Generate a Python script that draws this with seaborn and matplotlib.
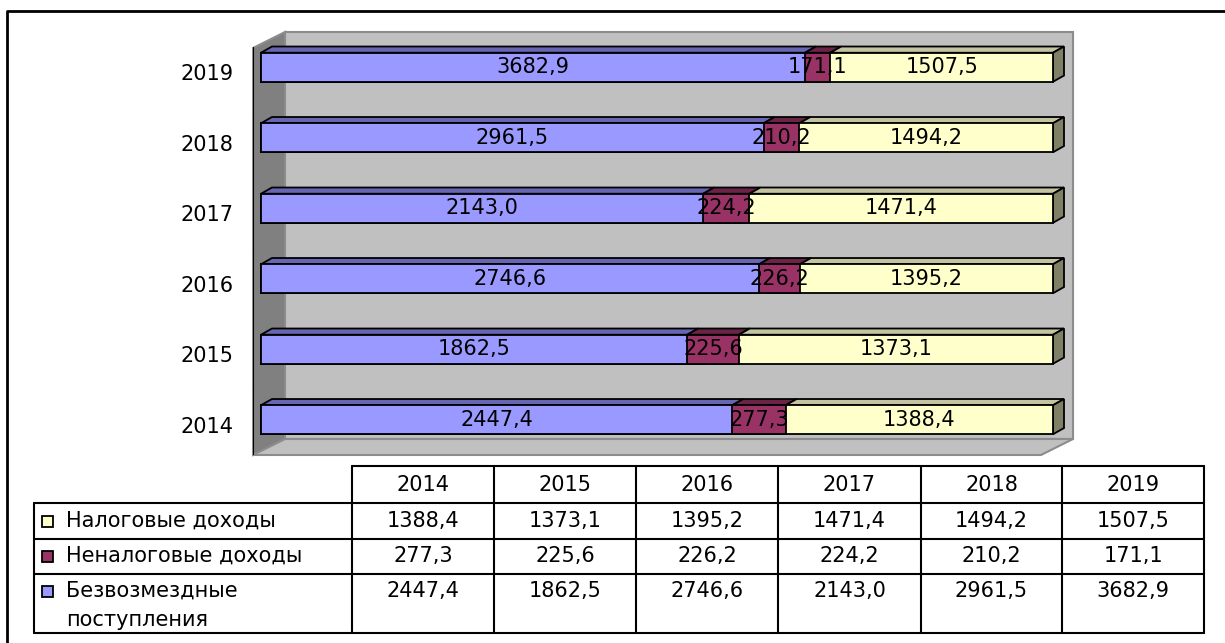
import numpy as np
import pandas as pd
import matplotlib
matplotlib.use("Agg")
import matplotlib.pyplot as plt
from matplotlib.patches import Polygon, Rectangle
from matplotlib.lines import Line2D
import matplotlib.transforms as mtransforms
import seaborn as sns

# data (thousand rubles)
years = ['2014', '2015', '2016', '2017', '2018', '2019']
tax = [1388.4, 1373.1, 1395.2, 1471.4, 1494.2, 1507.5]          # Налоговые доходы
nontax = [277.3, 225.6, 226.2, 224.2, 210.2, 171.1]             # Неналоговые доходы
grants = [2447.4, 1862.5, 2746.6, 2143.0, 2961.5, 3682.9]       # Безвозмездные поступления
series_names = ['Налоговые доходы', 'Неналоговые доходы', 'Безвозмездные\nпоступления']

col_grants = '#9999FF'
col_nontax = '#993366'
col_tax = '#FFFFCC'
top_cols = {col_grants: '#6666B3', col_nontax: '#6B2447', col_tax: '#C4C4A2'}

sns.set_theme(style='white')
plt.rcParams['font.family'] = ['DejaVu Sans']
plt.rcParams['text.color'] = 'black'
plt.rcParams['ytick.color'] = 'black'
FS = 15

W, H = 1225, 643
fig = plt.figure(figsize=(W / 100, H / 100), dpi=100)


def P(x, y):
    # pixel position (from top left) -> figure fraction
    return (x / W, 1 - y / H)


# 100% shares
df = pd.DataFrame({'year': years, 'tax': tax, 'nontax': nontax, 'grants': grants})
df['total'] = df['tax'] + df['nontax'] + df['grants']
df['s_grants'] = df['grants'] / df['total']
df['s_cum2'] = (df['grants'] + df['nontax']) / df['total']
df['s_full'] = 1.0
order = years[::-1]

# plot area (walls) in pixels
wl, wr, wt, wb = 253, 1073, 32, 455
bar_x0, bar_x1 = 261, 1053
row0, row_step = 77, 68
ax = fig.add_axes([wl / W, 1 - wb / H, (wr - wl) / W, (wb - wt) / H])
ax.set_xlim((wl - bar_x0) / (bar_x1 - bar_x0), (wr - bar_x0) / (bar_x1 - bar_x0))
ax.set_ylim((wb - row0) / row_step, (wt - row0) / row_step)
ax.set_facecolor('none')
for s in ax.spines.values():
    s.set_visible(False)

# walls and floor
depth_x, depth_y = 32, 16
walls = [
    ([(wl, wt + depth_y), (wl + depth_x, wt), (wl + depth_x, wb - depth_y), (wl, wb)], '#808080'),
    ([(wl + depth_x, wt), (wr, wt), (wr, wb - depth_y), (wl + depth_x, wb - depth_y)], '#C0C0C0'),
    ([(wl, wb), (wl + depth_x, wb - depth_y), (wr, wb - depth_y), (wr - depth_x, wb)], '#C0C0C0'),
]
for pts, c in walls:
    ax.add_patch(Polygon([P(*p) for p in pts], closed=True, transform=fig.transFigure,
                         facecolor=c, edgecolor='#8C8C8C', lw=1.5, zorder=0, clip_on=False))

# stacked bars (front faces), drawn as cumulative shares
bw = 28 / row_step
for col, c in [('s_full', col_tax), ('s_cum2', col_nontax), ('s_grants', col_grants)]:
    sns.barplot(data=df, x=col, y='year', order=order, orient='h', color=c,
                saturation=1, width=bw, edgecolor='black', linewidth=1.3,
                errorbar=None, ax=ax, zorder=3)

# 3d tops and end face
dx = 11 / (bar_x1 - bar_x0)
dy = 6 / row_step
for i, yr in enumerate(order):
    r = df[df['year'] == yr].iloc[0]
    bounds = [0, r['s_grants'], r['s_cum2'], 1.0]
    cols = [col_grants, col_nontax, col_tax]
    yt = i - bw / 2
    yb = i + bw / 2
    for k in range(3):
        x0, x1 = bounds[k], bounds[k + 1]
        ax.add_patch(Polygon([(x0, yt), (x1, yt), (x1 + dx, yt - dy), (x0 + dx, yt - dy)],
                             closed=True, facecolor=top_cols[cols[k]], edgecolor='black',
                             lw=1.3, zorder=2, clip_on=False))
    ax.add_patch(Polygon([(1, yt), (1 + dx, yt - dy), (1 + dx, yb - dy), (1, yb)],
                         closed=True, facecolor='#808066', edgecolor='black', lw=1.3,
                         zorder=2, clip_on=False))
    vals = [r['grants'], r['nontax'], r['tax']]
    for k in range(3):
        xc = (bounds[k] + bounds[k + 1]) / 2
        ax.text(xc, i, f'{vals[k]:.1f}'.replace('.', ','), ha='center', va='center',
                fontsize=FS, color='black', zorder=5, clip_on=False)

# category axis: line, ticks between rows, labels
ax.set_xticks([])
ax.set_yticks(range(len(order)))
ax.set_yticklabels(order, fontsize=FS, color='black')
ax.tick_params(axis='y', length=0, pad=14)
ax.set_ylabel('')
ax.set_xlabel('')
off = mtransforms.ScaledTranslation(0, -5 / 100, fig.dpi_scale_trans)
for lab in ax.get_yticklabels():
    lab.set_transform(lab.get_transform() + off)
ax.add_line(Line2D([P(wl, 0)[0]] * 2, [P(0, wt + depth_y)[1], P(0, wb)[1]],
                   transform=fig.transFigure, color='black', lw=1.5, zorder=4))
for k in range(len(order) + 1):
    ty = row0 + row_step * (k - 0.5) + 5
    ax.add_line(Line2D([P(wl - 8, 0)[0], P(wl, 0)[0]], [P(0, ty)[1]] * 2,
                       transform=fig.transFigure, color='black', lw=1.5, zorder=4))

# data table below the chart
col_edges = [352, 494, 636, 778, 921, 1062, 1204]
row_edges = [466, 503, 539, 574, 633]
tab_left = 34
lk = dict(transform=fig.transFigure, color='black', lw=1.5)
fig.add_artist(Line2D([P(col_edges[0], 0)[0], P(col_edges[-1], 0)[0]], [P(0, row_edges[0])[1]] * 2, **lk))
for ry in row_edges[1:]:
    fig.add_artist(Line2D([P(tab_left, 0)[0], P(col_edges[-1], 0)[0]], [P(0, ry)[1]] * 2, **lk))
for cx in col_edges:
    fig.add_artist(Line2D([P(cx, 0)[0]] * 2, [P(0, row_edges[0])[1], P(0, row_edges[-1])[1]], **lk))
fig.add_artist(Line2D([P(tab_left, 0)[0]] * 2, [P(0, row_edges[1])[1], P(0, row_edges[-1])[1]], **lk))

for j, yr in enumerate(years):
    cx = (col_edges[j] + col_edges[j + 1]) / 2
    fig.text(*P(cx, 485), yr, ha='center', va='center', fontsize=FS)

table_rows = [tax, nontax, grants]
row_cols = [col_tax, col_nontax, col_grants]
row_text_y = [521, 556, 591]
name_lines = [series_names[0], series_names[1]] + series_names[2].split('\n')
for r_i, vals in enumerate(table_rows):
    ty = row_text_y[r_i]
    fig.add_artist(Rectangle(P(42, ty + 6), 11 / W, 11 / H, transform=fig.transFigure,
                             facecolor=row_cols[r_i], edgecolor='black', lw=1.3))
    for j, v in enumerate(vals):
        cx = (col_edges[j] + col_edges[j + 1]) / 2
        fig.text(*P(cx, ty), f'{v:.1f}'.replace('.', ','), ha='center', va='center', fontsize=FS)
for txt, ty in zip(name_lines, row_text_y + [620]):
    fig.text(*P(66, ty), txt, ha='left', va='center', fontsize=FS)

# outer frame (left and top edges visible)
fig.add_artist(Line2D([P(7, 0)[0], P(7, 0)[0], 1], [0, P(0, 11)[1], P(0, 11)[1]],
                      transform=fig.transFigure, color='black', lw=2))

fig.savefig('out.png', dpi=100)
